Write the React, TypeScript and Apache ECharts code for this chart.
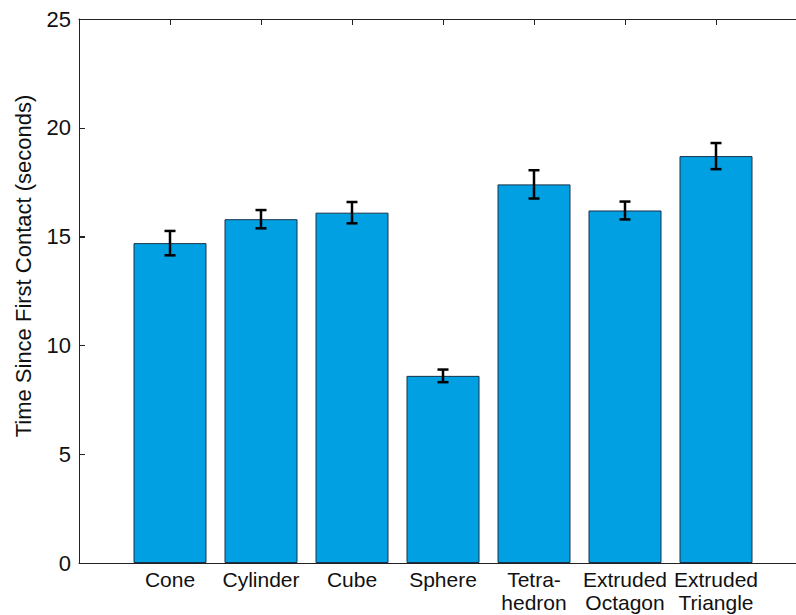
import React, { useEffect, useRef } from "react";
import * as echarts from "echarts";

const categories = ["Cone", "Cylinder", "Cube", "Sphere", "Tetra-\nhedron", "Extruded\nOctagon", "Extruded\nTriangle"];
const positions = [1, 2, 3, 4, 5, 6, 7];
const means = [14.7, 15.8, 16.1, 8.6, 17.4, 16.2, 18.7];
const errors = [0.56, 0.42, 0.49, 0.29, 0.65, 0.41, 0.6];
const yTicks = [0, 5, 10, 15, 20, 25];
const yTitle = "Time Since First Contact (seconds)";

const FONT = "'Liberation Sans', Arial, sans-serif";

export default function App() {
  const ref = useRef<HTMLDivElement>(null);
  useEffect(() => {
    if (!ref.current) return;
    const chart = echarts.init(ref.current, null, { renderer: "svg" });
    const barData = positions.map((p, i) => [p, means[i]]);
    const errData = positions.map((p, i) => [p, means[i] - errors[i], means[i] + errors[i]]);
    const yMax = yTicks[yTicks.length - 1];
    const TICK = 6;
    chart.setOption({
      animation: false,
      backgroundColor: "#ffffff",
      grid: { left: 79, top: 19, bottom: 52, right: 23 },
      xAxis: [
        {
          type: "value",
          min: 0,
          max: 8,
          interval: 1,
          position: "bottom",
          splitLine: { show: false },
          axisLine: { show: true, onZero: false, lineStyle: { color: "#222", width: 1 } },
          axisTick: { show: false },
          axisLabel: {
            show: true,
            margin: 5,
            color: "#111",
            fontFamily: FONT,
            fontSize: 21,
            lineHeight: 23,
            verticalAlign: "top",
            formatter: (v: number) => {
              const idx = positions.indexOf(Math.round(v));
              return idx >= 0 ? categories[idx] : "";
            },
          },
        },
        {
          type: "value",
          min: 0,
          max: 8,
          interval: 1,
          position: "top",
          splitLine: { show: false },
          axisLine: { show: true, onZero: false, lineStyle: { color: "#222", width: 1 } },
          axisTick: { show: true, inside: true, length: TICK, lineStyle: { color: "#222", width: 1 } },
          axisLabel: { show: false },
        },
      ],
      yAxis: {
        type: "value",
        min: yTicks[0],
        max: yMax,
        interval: 5,
        splitLine: { show: false },
        axisLine: { show: true, onZero: false, lineStyle: { color: "#222", width: 1 } },
        axisTick: { show: true, inside: true, length: TICK, lineStyle: { color: "#222", width: 1 } },
        axisLabel: { color: "#111", fontFamily: FONT, fontSize: 22, margin: 8 },
      },
      series: [
        {
          type: "bar",
          xAxisIndex: 0,
          data: barData,
          barWidth: 73,
          z: 2,
          itemStyle: { color: "#00a0e3", borderColor: "#17324a", borderWidth: 1 },
        },
        {
          type: "custom",
          xAxisIndex: 0,
          data: errData,
          z: 5,
          renderItem: (params: any, api: any) => {
            const x = api.value(0);
            const lo = api.coord([x, api.value(1)]);
            const hi = api.coord([x, api.value(2)]);
            const hw = 5.5;
            const style = { stroke: "#000", lineWidth: 2.5 };
            return {
              type: "group",
              children: [
                { type: "line", shape: { x1: lo[0], y1: lo[1], x2: hi[0], y2: hi[1] }, style },
                { type: "line", shape: { x1: lo[0] - hw, y1: lo[1], x2: lo[0] + hw, y2: lo[1] }, style },
                { type: "line", shape: { x1: hi[0] - hw, y1: hi[1], x2: hi[0] + hw, y2: hi[1] }, style },
              ],
            };
          },
        },
      ],
    });
    // tick marks and y title placed with the library's own scale conversion
    const topTicks = positions.map((p) => {
      const c = chart.convertToPixel({ xAxisIndex: 0, yAxisIndex: 0 }, [p, yMax]) as number[];
      return {
        type: "line",
        z: 100,
        shape: { x1: Math.round(c[0]) + 0.5, y1: c[1], x2: Math.round(c[0]) + 0.5, y2: c[1] + TICK },
        style: { stroke: "#222", lineWidth: 1 },
      };
    });
    const leftTicks = yTicks.slice(1, -1).map((v) => {
      const c = chart.convertToPixel({ xAxisIndex: 0, yAxisIndex: 0 }, [0, v]) as number[];
      return {
        type: "line",
        z: 100,
        shape: { x1: c[0], y1: Math.round(c[1]) + 0.5, x2: c[0] + TICK, y2: Math.round(c[1]) + 0.5 },
        style: { stroke: "#222", lineWidth: 1 },
      };
    });
    chart.setOption({
      graphic: [
        {
          type: "text",
          x: 23,
          y: 266,
          rotation: Math.PI / 2,
          style: {
            text: yTitle,
            fill: "#111",
            font: `22px ${FONT}`,
            align: "center",
            verticalAlign: "middle",
          },
        },
        ...topTicks,
        ...leftTicks,
      ],
    });
    return () => chart.dispose();
  }, []);
  return (
    <div
      style={{ position: "fixed", left: 0, top: 0, width: 796, height: 615, overflow: "hidden", background: "#fff" }}
    >
      <div ref={ref} style={{ width: 830, height: 615 }} />
    </div>
  );
}
